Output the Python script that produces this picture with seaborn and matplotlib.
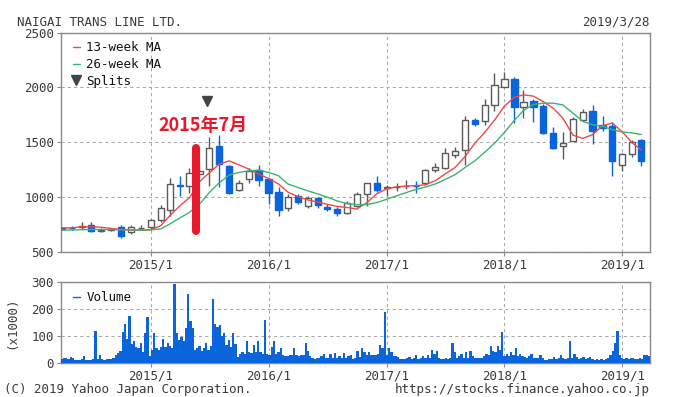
import matplotlib
matplotlib.use("Agg")
import matplotlib.pyplot as plt
from matplotlib.lines import Line2D
import numpy as np
import pandas as pd
import seaborn as sns

# monthly candles, 2014/4 .. 2019/3
months = pd.date_range("2014-04-01", periods=60, freq="MS")
opens = [722, 722, 728, 745, 695, 703, 730, 680, 715, 725,
         790, 885, 1110, 1100, 1215, 1255, 1465, 1285, 1067, 1165,
         1245, 1165, 1050, 900, 1012, 915, 990, 910, 890, 855,
         920, 1030, 1133, 1085, 1090, 1097, 1105, 1125, 1245, 1265,
         1385, 1425, 1705, 1690, 1835, 2005, 2080, 1825, 1875, 1830,
         1585, 1465, 1515, 1700, 1785, 1660, 1645, 1295, 1395, 1520]
highs = [730, 735, 771, 770, 715, 720, 745, 745, 750, 805,
         931, 1178, 1193, 1268, 1300, 1546, 1570, 1290, 1160, 1268,
         1293, 1178, 1088, 1028, 1028, 1010, 1003, 937, 907, 965,
         1049, 1130, 1193, 1112, 1133, 1160, 1148, 1257, 1314, 1444,
         1455, 1742, 1724, 1896, 2133, 2142, 2097, 1977, 1896, 1850,
         1636, 1594, 1730, 1806, 1841, 1742, 1684, 1405, 1516, 1534]
lows = [705, 700, 714, 680, 685, 695, 625, 665, 700, 705,
        771, 832, 1013, 1042, 1180, 1103, 1090, 1030, 1060, 1133,
        1103, 937, 832, 871, 937, 901, 901, 871, 826, 847,
        907, 922, 1051, 1012, 1052, 1070, 1037, 1115, 1233, 1254,
        1353, 1293, 1645, 1660, 1787, 2000, 1675, 1720, 1684, 1575,
        1440, 1344, 1510, 1690, 1480, 1600, 1193, 1239, 1365, 1284]
closes = [710, 718, 733, 695, 702, 708, 650, 725, 722, 795,
          900, 1120, 1098, 1220, 1240, 1450, 1300, 1035, 1133, 1240,
          1155, 1040, 885, 1000, 960, 995, 930, 895, 855, 945,
          1025, 1125, 1065, 1090, 1095, 1102, 1100, 1250, 1275, 1405,
          1420, 1700, 1665, 1840, 2020, 2075, 1825, 1870, 1825, 1585,
          1450, 1495, 1715, 1780, 1605, 1630, 1325, 1390, 1505, 1325]

ma13 = [720, 720, 730, 730, 725, 715, 705, 700, 698, 702,
        740, 830, 920, 995, 1140, 1220, 1300, 1330, 1295, 1255,
        1210, 1170, 1120, 1045, 1005, 975, 955, 935, 915, 905,
        892, 950, 1030, 1075, 1094, 1100, 1105, 1112, 1150, 1210,
        1270, 1370, 1490, 1590, 1700, 1830, 1910, 1932, 1920, 1870,
        1810, 1720, 1565, 1535, 1570, 1650, 1675, 1595, 1494, 1430]
ma26 = [700, 700, 703, 705, 705, 705, 703, 702, 700, 702,
        710, 755, 810, 860, 935, 1040, 1130, 1200, 1225, 1240,
        1245, 1225, 1195, 1120, 1088, 1058, 1030, 1000, 965, 940,
        932, 932, 950, 980, 1012, 1040, 1070, 1092, 1120, 1160,
        1205, 1270, 1330, 1410, 1490, 1590, 1700, 1790, 1845, 1856,
        1856, 1840, 1766, 1690, 1660, 1645, 1615, 1594, 1585, 1570]

# weekly volume (x1000)
weeks = pd.date_range("2014-03-31", periods=261, freq="7D")
volume = [15, 18, 20, 15, 22, 18, 12, 12, 12, 15,
          25, 12, 12, 12, 15, 120, 15, 28, 15, 12,
          15, 15, 15, 20, 30, 37, 46, 117, 145, 90,
          173, 70, 80, 60, 55, 75, 40, 110, 170, 25,
          50, 110, 55, 50, 60, 90, 60, 75, 65, 55,
          292, 110, 85, 95, 80, 130, 257, 155, 130, 50,
          55, 65, 45, 55, 75, 50, 65, 238, 145, 135,
          140, 100, 110, 68, 85, 60, 110, 70, 24, 35,
          40, 35, 80, 40, 38, 68, 40, 80, 42, 35,
          160, 35, 30, 60, 80, 35, 40, 55, 30, 25,
          25, 28, 30, 55, 30, 25, 28, 30, 74, 45,
          25, 18, 15, 18, 20, 25, 35, 20, 20, 35,
          20, 38, 20, 25, 18, 38, 20, 25, 30, 15,
          20, 45, 24, 56, 40, 30, 40, 30, 30, 30,
          35, 68, 55, 191, 30, 55, 40, 25, 25, 22,
          15, 15, 15, 18, 24, 15, 18, 30, 15, 20,
          25, 18, 30, 20, 49, 35, 45, 18, 15, 15,
          17, 15, 20, 74, 40, 20, 25, 35, 20, 40,
          20, 45, 25, 20, 17, 17, 20, 25, 35, 30,
          62, 45, 40, 62, 50, 115, 25, 35, 25, 40,
          30, 56, 25, 35, 25, 22, 20, 25, 35, 20,
          20, 18, 28, 18, 13, 13, 15, 15, 22, 15,
          18, 28, 18, 15, 18, 83, 20, 35, 24, 15,
          18, 24, 15, 17, 24, 15, 13, 15, 13, 15,
          13, 15, 20, 28, 45, 74, 120, 30, 17, 15,
          20, 15, 17, 18, 15, 15, 17, 15, 28, 30,
          25]

year_ticks = pd.to_datetime(["2015-01-01", "2016-01-01", "2017-01-01", "2018-01-01", "2019-01-01"])
year_labels = ["2015/1", "2016/1", "2017/1", "2018/1", "2019/1"]
price_ticks = [500, 1000, 1500, 2000, 2500]
volume_ticks = [0, 100, 200, 300]

split_date = pd.Timestamp("2015-06-23")
mark_date = pd.Timestamp("2015-05-22")
mark_text = "2015年7月"

BLUE = "#0a64dc"
RED = "#f04848"
GREEN = "#3cb46e"
GREY = "#5a5a5a"
GRID = "#a8a8a8"
TXT = "#3a3a3a"

sns.set_style("white")
plt.rcParams["font.family"] = ["DejaVu Sans Mono", "Noto Sans CJK JP"]
plt.rcParams["font.size"] = 9

candles = pd.DataFrame({"date": months, "open": opens, "high": highs,
                        "low": lows, "close": closes, "ma13": ma13, "ma26": ma26})
up = candles["close"] >= candles["open"]

fig = plt.figure(figsize=(6.87, 3.97), dpi=100)
ax = fig.add_axes([61 / 687, 1 - 252 / 397, 589 / 687, 219.5 / 397])
axv = fig.add_axes([61 / 687, 1 - 363 / 397, 589 / 687, 80.7 / 397])

xmin, xmax = pd.Timestamp("2014-03-29"), pd.Timestamp("2019-03-28")

# candles: wicks first, bodies on top
wick_col = np.where(up, GREY, BLUE)
ax.vlines(candles["date"], candles["low"], candles["high"], colors=wick_col,
          linewidth=1, zorder=2)
body_low = candles[["open", "close"]].min(axis=1)
body_h = (candles["close"] - candles["open"]).abs().clip(lower=2)
ax.bar(candles["date"], body_h, bottom=body_low, width=19,
       color=np.where(up, "white", BLUE), edgecolor=wick_col, linewidth=1, zorder=3)

sns.lineplot(data=candles, x="date", y="ma13", color=RED, linewidth=1, ax=ax, zorder=4)
sns.lineplot(data=candles, x="date", y="ma26", color=GREEN, linewidth=1, ax=ax, zorder=4)

ax.plot([split_date], [1880], marker="v", color="#444444", markersize=6.5,
        linestyle="none", zorder=5)
ax.plot([mark_date, mark_date], [690, 1450], color="#e8192c", linewidth=5.8,
        solid_capstyle="round", zorder=6)
ax.text(pd.Timestamp("2015-06-13"), 1655, mark_text, color="#e8192c", fontsize=13,
        fontweight="bold", ha="center", va="center", family=["Noto Sans CJK JP"], zorder=7)

ax.set_xlim(xmin, xmax)
ax.set_ylim(500, 2500)
ax.set_yticks(price_ticks)
ax.set_xticks(year_ticks)
ax.set_xticklabels(year_labels)
ax.set_xlabel("")
ax.set_ylabel("")

handles = [Line2D([], [], color=RED, linewidth=1),
           Line2D([], [], color=GREEN, linewidth=1),
           Line2D([], [], color="#444444", marker="v", markersize=6.5, linestyle="none")]
ax.legend(handles, ["13-week MA", "26-week MA", "Splits"], loc="upper left",
          bbox_to_anchor=(0.005, 1.0), frameon=False, handlelength=0.6,
          handletextpad=0.5, labelspacing=0.3, borderpad=0.4, borderaxespad=0.3,
          fontsize=9, labelcolor="#111111")

# volume
axv.bar(weeks, volume, width=7, color=BLUE, linewidth=0, zorder=3)
axv.set_xlim(xmin, xmax)
axv.set_ylim(0, 300)
axv.set_yticks(volume_ticks)
axv.set_xticks(year_ticks)
axv.set_xticklabels(year_labels)
axv.legend([Line2D([], [], color=BLUE, linewidth=1)], ["Volume"], loc="upper left",
           bbox_to_anchor=(0.005, 1.0), frameon=False, handlelength=0.6,
           handletextpad=0.5, borderpad=0.4, borderaxespad=0.3, fontsize=9,
           labelcolor="#111111")

for a in (ax, axv):
    a.grid(True, linestyle=(0, (3, 3)), color=GRID, linewidth=0.75, zorder=0)
    a.set_axisbelow(True)
    for s in a.spines.values():
        s.set_color("#8a8a8a")
        s.set_linewidth(1)
    a.tick_params(left=True, bottom=True, length=3, width=0.8, color="#8a8a8a",
                  labelsize=9, labelcolor=TXT, pad=2)

fig.text(17 / 687, 1 - 22 / 397, "NAIGAI TRANS LINE LTD.", ha="left", va="center",
         fontsize=9, color=TXT)
fig.text(650 / 687, 1 - 22 / 397, "2019/3/28", ha="right", va="center",
         fontsize=9, color=TXT)
fig.text(12 / 687, 1 - 323 / 397, "(x1000)", rotation=90, ha="center", va="center",
         fontsize=9, color=TXT)
fig.text(4 / 687, 1 - 390 / 397, "(C) 2019 Yahoo Japan Corporation.", ha="left",
         va="center", fontsize=9, color=TXT)
fig.text(650 / 687, 1 - 390 / 397, "https://stocks.finance.yahoo.co.jp", ha="right",
         va="center", fontsize=9, color=TXT)

fig.savefig("out.png", dpi=100)
